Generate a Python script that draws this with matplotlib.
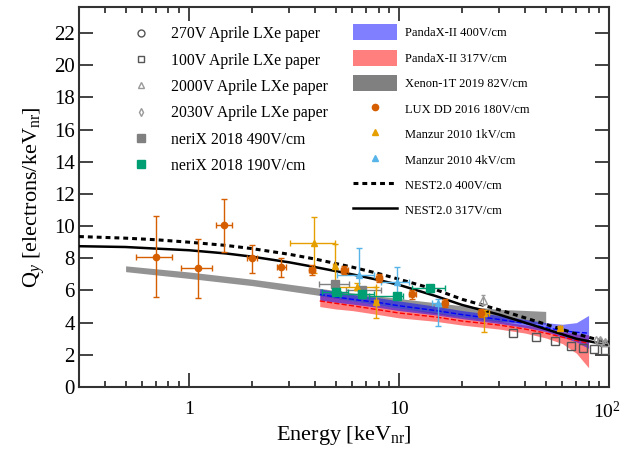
import numpy as np
import matplotlib.pyplot as plt
from matplotlib.lines import Line2D
from matplotlib.patches import Patch
from matplotlib.transforms import ScaledTranslation

plt.rcParams['font.family'] = 'Liberation Serif'
plt.rcParams['mathtext.fontset'] = 'custom'
plt.rcParams['mathtext.rm'] = 'Liberation Serif'
plt.rcParams['mathtext.it'] = 'Liberation Serif:italic'

# ---- NEST2.0 curves
nest_E = [0.3, 0.5, 0.7, 1, 1.5, 2, 3, 4, 6, 8, 10, 15, 20, 30, 50, 70, 100]
nest_317 = [8.75, 8.7, 8.6, 8.5, 8.3, 8.1, 7.75, 7.45, 7.0, 6.65, 6.35, 5.65, 5.1, 4.5, 3.6, 3.0, 2.6]
nest_400 = [9.35, 9.25, 9.15, 9.0, 8.8, 8.6, 8.25, 7.95, 7.45, 7.05, 6.7, 6.05, 5.45, 4.8, 3.9, 3.3, 2.75]

# ---- Xenon-1T 2019 band
xe_E = [0.5, 1, 2, 4, 6, 10, 20, 30, 50]
xe_mid = [7.35, 6.95, 6.5, 5.95, 5.6, 5.2, 4.7, 4.45, 4.3]
xe_half = [0.18, 0.2, 0.2, 0.22, 0.25, 0.3, 0.35, 0.38, 0.4]

# ---- PandaX-II bands
px_E = [4.2, 5, 6, 8, 10, 15, 20, 30, 40, 50, 60, 70, 80]
px400_hi = [6.1, 5.93, 5.75, 5.55, 5.35, 5.02, 4.75, 4.45, 4.2, 4.0, 3.9, 4.0, 4.45]
px400_lo = [5.4, 5.27, 5.15, 4.95, 4.75, 4.48, 4.25, 3.95, 3.7, 3.45, 3.1, 2.8, 2.4]
px400_mid = [5.75, 5.6, 5.45, 5.25, 5.05, 4.75, 4.5, 4.2, 3.95, 3.7, 3.5, 3.4, 3.35]
px317_hi = [5.7, 5.55, 5.35, 5.1, 4.9, 4.62, 4.35, 4.1, 3.85, 3.65, 3.45, 3.3, 3.25]
px317_lo = [5.0, 4.85, 4.75, 4.5, 4.3, 4.08, 3.85, 3.6, 3.35, 3.05, 2.7, 2.1, 1.2]
px317_mid = [5.35, 5.2, 5.05, 4.8, 4.6, 4.35, 4.1, 3.85, 3.6, 3.35, 3.1, 2.9, 2.7]

# ---- LUX DD 2016
lux_E = [0.70, 1.10, 1.47, 2.00, 2.75, 3.87, 5.5, 8.05, 11.6, 16.5, 24.7]
lux_Q = [8.1, 7.37, 10.06, 7.99, 7.43, 7.27, 7.27, 6.75, 5.75, 5.2, 4.6]
lux_Elo = [0.56, 0.915, 1.35, 1.9, 2.63, 3.75, 5.3, 7.8, 11.2, 16.0, 24.0]
lux_Ehi = [0.835, 1.29, 1.6, 2.1, 2.9, 4.0, 5.7, 8.3, 12.0, 17.0, 25.4]
lux_Qlo = [5.6, 5.55, 8.4, 7.1, 6.81, 6.95, 7.0, 6.5, 5.5, 4.95, 4.35]
lux_Qhi = [10.62, 9.21, 11.68, 8.82, 8.03, 7.6, 7.5, 7.0, 6.0, 5.45, 4.85]

# ---- Manzur 2010 1 kV/cm
m1_E = [3.96, 4.94, 6.3, 7.77, 25.5, 58.5]
m1_Q = [8.92, 7.5, 6.23, 5.3, 4.58, 3.64]
m1_Elo = [3.04, 4.85, 4.94, 7.6, 23.8, 57.0]
m1_Ehi = [4.94, 5.03, 7.77, 7.95, 26.9, 60.0]
m1_Qlo = [7.1, 6.3, 6.0, 4.3, 3.43, 3.55]
m1_Qhi = [10.55, 8.9, 6.45, 6.2, 4.8, 3.75]

# ---- Manzur 2010 4 kV/cm
m4_E = [6.45, 9.8, 15.3]
m4_Q = [6.96, 6.55, 5.2]
m4_Elo = [5.1, 8.2, 14.3]
m4_Ehi = [7.6, 11.2, 16.5]
m4_Qlo = [6.0, 5.5, 3.8]
m4_Qhi = [8.65, 7.47, 5.5]

# ---- neriX 2018
nx490_E = [4.94, 6.7]
nx490_Q = [6.38, 6.0]
nx490_Elo = [4.16, 5.6]
nx490_Ehi = [5.78, 8.2]
nx190_E = [5.0, 6.7, 9.8, 14.1]
nx190_Q = [5.92, 5.75, 5.65, 6.13]
nx190_Elo = [4.3, 5.3, 7.2, 11.6]
nx190_Ehi = [5.7, 7.6, 10.5, 16.5]
nx190_err = [0.15, 0.2, 0.2, 0.2]

# ---- Aprile LXe paper
ap100_E = [34.9, 45.2, 55.4, 66, 75, 84.5, 95.7]
ap100_Q = [3.33, 3.08, 2.87, 2.57, 2.4, 2.34, 2.3]
ap2000_E = [25.1, 90.8, 95.7]
ap2000_Q = [5.4, 2.92, 2.81]
ap2000_err = [0.3, 0.1, 0.1]
ap270_E = [92.0]
ap270_Q = [2.75]
ap2030_E = [87.0]
ap2030_Q = [2.95]

c_lux = '#D55E00'
c_m1 = '#E69F00'
c_m4 = '#56B4E9'
c_nx = '#009E73'

fig = plt.figure(figsize=(6.22, 4.49), dpi=100)
ax = fig.add_axes([0.127, 0.138, 0.852, 0.846])

xe_mid = np.array(xe_mid)
xe_half = np.array(xe_half)
ax.fill_between(xe_E, xe_mid - xe_half, xe_mid + xe_half, color='#808080', alpha=0.85, lw=0, zorder=1)
ax.fill_between(px_E, px317_lo, px317_hi, color='red', alpha=0.5, lw=0, zorder=2)
ax.fill_between(px_E, px400_lo, px400_hi, color='blue', alpha=0.5, lw=0, zorder=2)
ax.plot(px_E, px400_mid, color='blue', ls='--', lw=1, zorder=3)
ax.plot(px_E, px317_mid, color='red', ls='--', lw=1, zorder=3)

ax.plot(nest_E, nest_400, color='black', ls=(0, (1.6, 1.3)), lw=2.2, zorder=4)
ax.plot(nest_E, nest_317, color='black', lw=1.8, zorder=4)


def asym(c, lo, hi):
    c = np.array(c)
    return [c - np.array(lo), np.array(hi) - c]


ekw = dict(elinewidth=1.0, capsize=2, capthick=1.0, ls='none', zorder=5)
ax.errorbar(nx490_E, nx490_Q, xerr=asym(nx490_E, nx490_Elo, nx490_Ehi), yerr=0.15,
            fmt='s', ms=6, color='#808080', **ekw)
ax.errorbar(m1_E, m1_Q, xerr=asym(m1_E, m1_Elo, m1_Ehi), yerr=asym(m1_Q, m1_Qlo, m1_Qhi),
            fmt='^', ms=4, color=c_m1, **ekw)
ax.errorbar(m4_E, m4_Q, xerr=asym(m4_E, m4_Elo, m4_Ehi), yerr=asym(m4_Q, m4_Qlo, m4_Qhi),
            fmt='^', ms=4, color=c_m4, **ekw)
ax.errorbar(nx190_E, nx190_Q, xerr=asym(nx190_E, nx190_Elo, nx190_Ehi), yerr=nx190_err,
            fmt='s', ms=6, color=c_nx, **ekw)
ax.errorbar(lux_E, lux_Q, xerr=asym(lux_E, lux_Elo, lux_Ehi), yerr=asym(lux_Q, lux_Qlo, lux_Qhi),
            fmt='o', ms=4.5, color=c_lux, **ekw)

ax.errorbar(ap2000_E, ap2000_Q, yerr=ap2000_err, fmt='^', ms=6, mfc='none', mec='#999999',
            color='#999999', elinewidth=0.8, capsize=1.5, zorder=6)
ax.plot(ap100_E, ap100_Q, 's', ms=6, mfc='none', mec='#555555', mew=1, zorder=6)
ax.plot(ap270_E, ap270_Q, 'o', ms=4, mfc='none', mec='#555555', mew=1, zorder=6)
ax.plot(ap2030_E, ap2030_Q, 'd', ms=4, mfc='none', mec='#999999', mew=1, zorder=6)

ax.set_xscale('log')
ax.set_xlim(0.3, 100)
ax.set_ylim(0, 23.6)
ax.set_yticks(np.arange(0, 23, 2))
ax.set_xticks([1, 10, 100])
ax.set_xticklabels(['1', '10', '$10^2$'])
ax.tick_params(which='both', direction='in', top=True, right=True, width=1.2, colors='#222222',
               labelcolor='black', labelsize=15)
ax.tick_params(axis='x', labelsize=14)
ax.tick_params(which='major', length=10)
ax.tick_params(which='minor', length=4.5)
ax.tick_params(axis='x', pad=10)
ax.tick_params(axis='y', pad=3)
for s in ax.spines.values():
    s.set_linewidth(1.5)
    s.set_color('#333333')
# keep the 10^2 label inside the figure edge
last = ax.xaxis.get_major_ticks()[-1].label1
last.set_horizontalalignment('right')
last.set_transform(last.get_transform() + ScaledTranslation(0.12, 0, fig.dpi_scale_trans))

ax.set_xlabel('Energy [keV$_{\\rm nr}$]', fontsize=16, labelpad=1)
ax.set_ylabel('Q$_y$ [electrons/keV$_{\\rm nr}$]', fontsize=16, labelpad=5)

left_handles = [
    Line2D([], [], ls='none', marker='o', ms=5, mfc='none', mec='#555555'),
    Line2D([], [], ls='none', marker='s', ms=5, mfc='none', mec='#555555'),
    Line2D([], [], ls='none', marker='^', ms=5, mfc='none', mec='#999999'),
    Line2D([], [], ls='none', marker='d', ms=4, mfc='none', mec='#999999'),
    Line2D([], [], ls='none', marker='s', ms=6, color='#808080'),
    Line2D([], [], ls='none', marker='s', ms=6, color=c_nx),
]
left_labels = ['270V Aprile LXe paper', '100V Aprile LXe paper', '2000V Aprile LXe paper',
               '2030V Aprile LXe paper', 'neriX 2018 490V/cm', 'neriX 2018 190V/cm']
leg1 = ax.legend(left_handles, left_labels, loc='upper left', bbox_to_anchor=(0.09, 0.95),
                 frameon=False, fontsize=11.3, handlelength=1.8, handletextpad=1.0,
                 labelspacing=0.66, borderaxespad=0, borderpad=0)
ax.add_artist(leg1)

right_handles = [
    Patch(facecolor='blue', alpha=0.5, edgecolor='none'),
    Patch(facecolor='red', alpha=0.5, edgecolor='none'),
    Patch(facecolor='#808080', edgecolor='none'),
    Line2D([], [], ls='none', marker='o', ms=4.5, color=c_lux),
    Line2D([], [], ls='none', marker='^', ms=4, color=c_m1),
    Line2D([], [], ls='none', marker='^', ms=4, color=c_m4),
    Line2D([], [], color='black', ls=(0, (1.6, 1.3)), lw=2.2),
    Line2D([], [], color='black', lw=1.8),
]
right_labels = ['PandaX-II 400V/cm', 'PandaX-II 317V/cm', 'Xenon-1T 2019 82V/cm',
                'LUX DD 2016 180V/cm', 'Manzur 2010 1kV/cm', 'Manzur 2010 4kV/cm',
                'NEST2.0 400V/cm', 'NEST2.0 317V/cm']
ax.legend(right_handles, right_labels, loc='upper left', bbox_to_anchor=(0.517, 0.955),
          frameon=False, fontsize=9, handlelength=3.5, handleheight=1.6, handletextpad=0.7,
          labelspacing=0.75, borderaxespad=0, borderpad=0)

fig.savefig('out.png', dpi=100)
